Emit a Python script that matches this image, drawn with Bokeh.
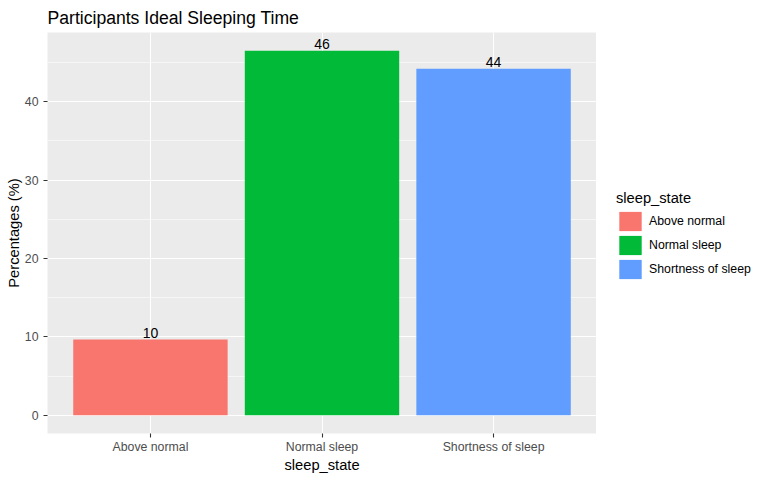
from bokeh.plotting import figure
from bokeh.layouts import row
from bokeh.models import Range1d, FixedTicker, Legend, LegendItem, ColumnDataSource
from bokeh.embed import file_html
from bokeh.resources import INLINE
from bokeh.core.properties import value

categories = ["Above normal", "Normal sleep", "Shortness of sleep"]
percentages = [9.66, 46.5, 44.2]
labels = ["10", "46", "44"]
colors = ["#F8766D", "#00BA38", "#619CFF"]
y_ticks = [0, 10, 20, 30, 40]
y_minor = [5, 15, 25, 35, 45]

FONT = "Liberation Sans"
xs = [i + 1 for i in range(len(categories))]
ymax = max(percentages)

src = ColumnDataSource(dict(x=xs, top=percentages, color=colors, label=labels, cat=categories))

H = 475
p = figure(width=596, height=H, output_backend="svg", toolbar_location=None,
           x_range=Range1d(0.4, len(categories) + 0.6),
           y_range=Range1d(-0.05 * ymax, 1.05 * ymax),
           min_border_left=47, min_border_right=0, min_border_top=0, min_border_bottom=37)

p.title.text = "Participants Ideal Sleeping Time"
p.title.text_font = FONT
p.title.text_font_size = "17.6px"
p.title.text_font_style = "normal"
p.title.text_color = "black"
p.title.offset = 0

p.background_fill_color = "#EBEBEB"
p.border_fill_color = "white"
p.outline_line_color = None

r = p.vbar(x="x", top="top", bottom=0, width=0.9, fill_color="color", line_color=None, source=src)
p.text(x="x", y="top", text="label", source=src, text_align="center", text_baseline="bottom",
       y_offset=-2, text_font=value(FONT), text_font_size="14px", text_color="black")

# grids
p.ygrid.ticker = FixedTicker(ticks=y_ticks, minor_ticks=y_minor)
p.ygrid.grid_line_color = "white"
p.ygrid.grid_line_width = 1.1
p.ygrid.minor_grid_line_color = "white"
p.ygrid.minor_grid_line_width = 0.55
p.xgrid.ticker = FixedTicker(ticks=xs)
p.xgrid.grid_line_color = "white"
p.xgrid.grid_line_width = 1.1

# axes
for ax in (p.xaxis[0], p.yaxis[0]):
    ax.axis_line_color = None
    ax.major_tick_line_color = "#333333"
    ax.major_tick_line_width = 1.1
    ax.major_tick_in = 0
    ax.major_tick_out = 4
    ax.minor_tick_line_color = None
    ax.major_label_text_font = FONT
    ax.major_label_text_font_size = "12.3px"
    ax.major_label_text_color = "#4D4D4D"
    ax.major_label_text_line_height = 1.0
    ax.axis_label_text_font = FONT
    ax.axis_label_text_font_size = "14.7px"
    ax.axis_label_text_font_style = "normal"
    ax.axis_label_text_color = "black"
    ax.axis_label_text_line_height = 1.0

p.xaxis.ticker = FixedTicker(ticks=xs)
p.xaxis.major_label_overrides = {x: c for x, c in zip(xs, categories)}
p.xaxis.axis_label = "sleep_state"
p.xaxis.major_label_standoff = 2
p.xaxis.axis_label_standoff = 0
p.yaxis.ticker = FixedTicker(ticks=y_ticks, minor_ticks=y_minor)
p.yaxis.axis_label = "Percentages (%)"
p.yaxis.major_label_standoff = 5
p.yaxis.axis_label_standoff = 0

# legend panel (separate figure to the right)
lg = figure(width=156, height=H, output_backend="svg", toolbar_location=None,
            x_range=Range1d(-10, -9), y_range=Range1d(-10, -9),
            x_axis_location=None, y_axis_location=None,
            min_border_left=0, min_border_right=0, min_border_top=0, min_border_bottom=0)
lg.outline_line_color = None
lg.background_fill_color = "white"
lg.border_fill_color = "white"
lg.grid.visible = False
r2 = lg.vbar(x="x", top="top", bottom=0, width=0.9, fill_color="color", line_color=None, source=src)

items = [LegendItem(label=c, renderers=[r2], index=i) for i, c in enumerate(categories)]
legend = Legend(items=items, title="sleep_state", location=(20, 152),
                title_text_font=FONT, title_text_font_size="14.7px", title_text_color="black",
                title_text_font_style="normal", title_standoff=3,
                label_text_font=FONT, label_text_font_size="12.3px", label_text_color="black",
                glyph_width=28, glyph_height=24, label_standoff=5, spacing=-1,
                padding=0, margin=0, border_line_color=None, background_fill_alpha=0)
lg.add_layout(legend, "center")

layout = row(p, lg)
open("out.html", "w").write(file_html(layout, INLINE))
